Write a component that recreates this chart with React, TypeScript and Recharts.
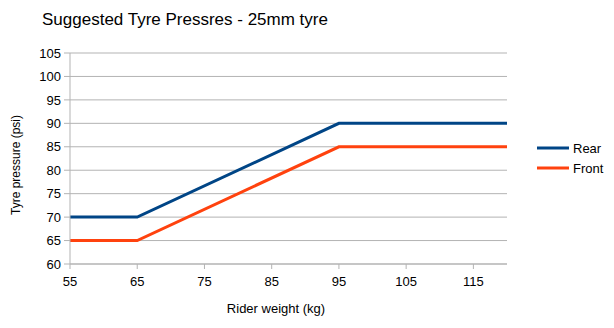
import React from "react";
import { LineChart, Line, XAxis, YAxis, CartesianGrid } from "recharts";

const weights = [55, 65, 95, 120];
const rearPressure = [70, 70, 90, 90];
const frontPressure = [65, 65, 85, 85];
const xTicks = [55, 65, 75, 85, 95, 105, 115];
const yTicks = [60, 65, 70, 75, 80, 85, 90, 95, 100, 105];
const seriesNames = ["Rear", "Front"];

const data = weights.map((w, i) => ({ w, rear: rearPressure[i], front: frontPressure[i] }));

const FONT = "'Liberation Sans', Arial, sans-serif";
const REAR = "#004586";
const FRONT = "#ff420e";
const colors = [REAR, FRONT];

export default function App() {
  return (
    <div style={{ position: "absolute", left: 0, top: 0, width: 614, height: 328, background: "#fff" }}>
      <div
        style={{
          position: "absolute",
          left: 42,
          top: 10,
          fontFamily: FONT,
          fontSize: 17,
          color: "#000",
          whiteSpace: "nowrap",
          lineHeight: "20px",
        }}
      >
        Suggested Tyre Pressres - 25mm tyre
      </div>
      <LineChart
        width={614}
        height={328}
        data={data}
        margin={{ top: 53, right: 107, bottom: 0, left: 0 }}
        style={{ fontFamily: FONT }}
      >
        <CartesianGrid vertical={false} stroke="#b3b3b3" strokeWidth={1} />
        <XAxis
          dataKey="w"
          type="number"
          domain={[55, 120]}
          ticks={xTicks}
          height={64}
          tickSize={5}
          tickMargin={8}
          stroke="#b3b3b3"
          tick={{ fill: "#000", fontSize: 13, fontFamily: FONT }}
          allowDataOverflow
          label={{
            content: () => (
              <text x={276} y={313} textAnchor="middle" fill="#000" fontSize={13} fontFamily={FONT}>
                Rider weight (kg)
              </text>
            ),
          }}
        />
        <YAxis
          type="number"
          domain={[60, 105]}
          ticks={yTicks}
          width={70}
          tickSize={6}
          tickMargin={3}
          stroke="#b3b3b3"
          tick={{ fill: "#000", fontSize: 13, fontFamily: FONT }}
          label={{
            content: () => (
              <text
                x={20}
                y={165}
                transform="rotate(-90 20 165)"
                textAnchor="middle"
                fill="#000"
                fontSize={12}
                fontFamily={FONT}
              >
                Tyre pressure (psi)
              </text>
            ),
          }}
        />
        <Line
          dataKey="rear"
          name="Rear"
          stroke={REAR}
          strokeWidth={3}
          dot={false}
          activeDot={false}
          type="linear"
          isAnimationActive={false}
        />
        <Line
          dataKey="front"
          name="Front"
          stroke={FRONT}
          strokeWidth={3}
          dot={false}
          activeDot={false}
          type="linear"
          isAnimationActive={false}
        />
      </LineChart>
      <div style={{ position: "absolute", left: 537, top: 138, fontFamily: FONT, fontSize: 13, color: "#000" }}>
        {seriesNames.map((name, i) => (
          <div key={name} style={{ display: "flex", alignItems: "center", height: 20 }}>
            <svg width={32} height={6} style={{ marginRight: 4 }}>
              <line x1={0} y1={3} x2={32} y2={3} stroke={colors[i]} strokeWidth={3} />
            </svg>
            <span>{name}</span>
          </div>
        ))}
      </div>
    </div>
  );
}
